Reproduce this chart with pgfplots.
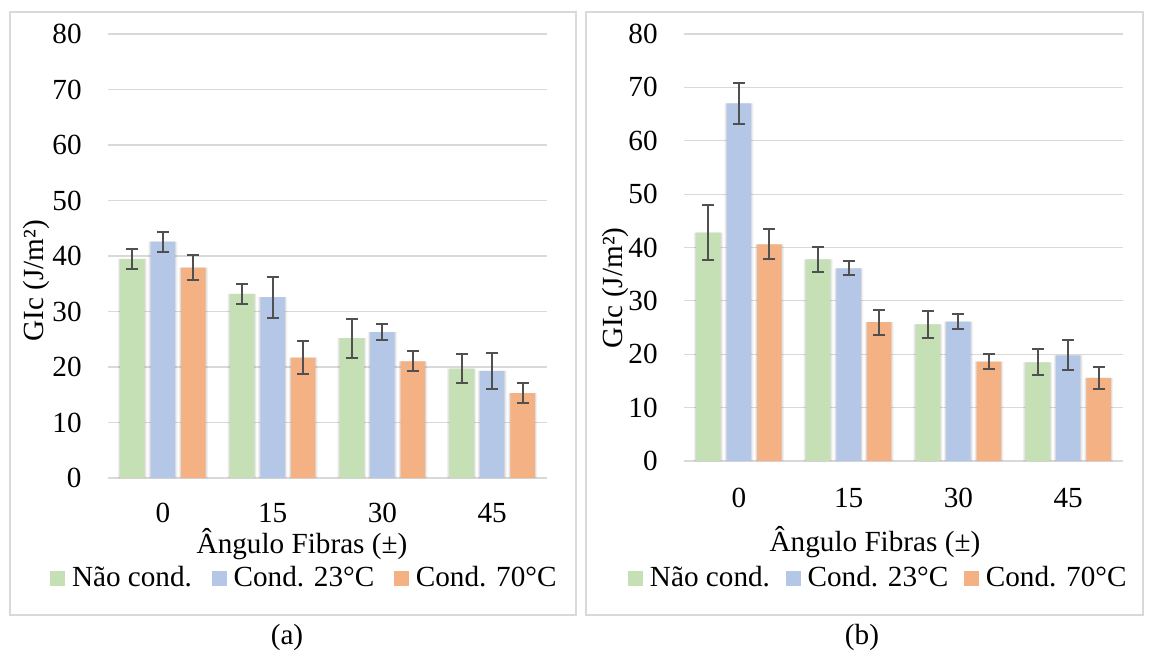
\documentclass[border=0pt]{standalone}
\usepackage{fontspec}
\setmainfont{Liberation Serif}
\usepackage{pgfplots}
\usepackage{pgfplotstable}
\pgfplotsset{compat=1.18}
\definecolor{cgreen}{HTML}{C5E0B4}
\definecolor{cblue}{HTML}{B4C7E7}
\definecolor{corange}{HTML}{F4B183}
\definecolor{gridgray}{HTML}{D9D9D9}
\definecolor{errgray}{HTML}{505050}
\definecolor{framegray}{HTML}{D9D9D9}
\newcommand\fs{\fontsize{14.6pt}{17pt}\selectfont}

\pgfplotstableread{
x y e
0 39.5 1.85
1 33.2 1.8
2 25.2 3.5
3 19.7 2.6
}\aGreen
\pgfplotstableread{
x y e
0 42.6 1.8
1 32.6 3.7
2 26.3 1.45
3 19.3 3.2
}\aBlue
\pgfplotstableread{
x y e
0 37.9 2.2
1 21.7 3.0
2 21.0 1.8
3 15.3 1.8
}\aOrange
\pgfplotstableread{
x y e
0 42.8 5.1
1 37.8 2.3
2 25.6 2.5
3 18.5 2.45
}\bGreen
\pgfplotstableread{
x y e
0 67.0 3.8
1 36.1 1.3
2 26.1 1.4
3 19.8 2.8
}\bBlue
\pgfplotstableread{
x y e
0 40.6 2.8
1 26.0 2.3
2 18.6 1.45
3 15.6 2.1
}\bOrange

\pgfplotsset{
 panel/.style={
  scale only axis, width=219.5pt,
  xmin=-0.5, xmax=3.5, ymin=0, ymax=80,
  ytick={0,10,...,80}, xtick={0,1,2,3}, xticklabels={0,15,30,45},
  axis line style={draw=none}, major tick length=0pt, tick style={draw=none},
  ymajorgrids, grid style={color=gridgray, line width=0.6pt},
  /pgf/number format/assume math mode=true,
  tick label style={font=\fs},
  yticklabel style={anchor=east, inner sep=0pt, xshift=-13pt},
  label style={font=\fs},
  legend style={draw=none, fill=none, font=\fs, legend columns=3,
    inner sep=0pt, nodes={inner sep=0pt}, anchor=west,
    /tikz/every odd column/.append style={column sep=3.3pt}},
  legend image code/.code={\fill[##1,draw=none] (0pt,-3.75pt) rectangle (7.5pt,3.75pt);},
  clip=false,
 },
}

\newcommand\series[3]{%
 \addplot[ybar, bar width=0.262, bar shift=0, fill=black, fill opacity=0.06, draw=none, forget plot]
   table[x expr=\thisrow{x}+#3, y=y]{#1};
 \addplot[ybar, bar width=0.242, bar shift=0, fill=black, fill opacity=0.08, draw=none, forget plot]
   table[x expr=\thisrow{x}+#3, y=y]{#1};
 \addplot[ybar, bar width=0.2214, bar shift=0, fill=#2, draw=none]
   table[x expr=\thisrow{x}+#3, y=y]{#1};
}
\newcommand\errs[2]{%
 \addplot[forget plot, mark=none, draw=none,
   error bars/.cd, y dir=both, y explicit, error mark=|,
   error bar style={draw=errgray, solid, line width=1pt},
   error mark options={draw=errgray, solid, line width=1pt, mark size=3pt}]
   table[x expr=\thisrow{x}+#2, y=y, y error=e]{#1};
}

\begin{document}
\begin{tikzpicture}
\useasboundingbox (0,0) rectangle (574.5pt,-327.5pt);
\draw[framegray, line width=0.6pt] (5pt,-6pt) rectangle (288pt,-307.5pt);
\draw[framegray, line width=0.6pt] (293pt,-6pt) rectangle (571.5pt,-307.5pt);

\begin{axis}[panel, height=222pt, at={(54pt,-239pt)}, anchor=south west,
  xticklabel style={anchor=base, inner sep=0pt, yshift=-22pt},
  xlabel={Ângulo Fibras (±)},
  xlabel style={at={(0.442,-0.171)}, anchor=base, inner sep=0pt},
  ylabel={GIc (J/m²)},
  ylabel style={at={(-0.148,0.4437)}, anchor=base, inner sep=0pt},
  legend style={at={(-0.1321,-0.2252)}, /tikz/every even column/.append style={column sep=10pt}},
  legend entries={Não cond., Cond. 23°C, Cond. 70°C},
]
\series{\aGreen}{cgreen}{-0.278}
\series{\aBlue}{cblue}{0}
\series{\aOrange}{corange}{0.278}
\errs{\aGreen}{-0.278}
\errs{\aBlue}{0}
\errs{\aOrange}{0.278}
\end{axis}

\begin{axis}[panel, height=213.5pt, at={(342pt,-230.5pt)}, anchor=south west,
  xticklabel style={anchor=base, inner sep=0pt, yshift=-23pt},
  xlabel={Ângulo Fibras (±)},
  xlabel style={at={(0.435,-0.211)}, anchor=base, inner sep=0pt},
  ylabel={GIc (J/m²)},
  ylabel style={at={(-0.141,0.405)}, anchor=base, inner sep=0pt},
  legend style={at={(-0.1276,-0.274)}, /tikz/every even column/.append style={column sep=8pt}},
  legend entries={Não cond., Cond. 23°C, Cond. 70°C},
]
\series{\bGreen}{cgreen}{-0.278}
\series{\bBlue}{cblue}{0}
\series{\bOrange}{corange}{0.278}
\errs{\bGreen}{-0.278}
\errs{\bBlue}{0}
\errs{\bOrange}{0.278}
\end{axis}

\node[font=\fs] at (143.5pt,-318.5pt) {(a)};
\node[font=\fs] at (431pt,-318.5pt) {(b)};
\end{tikzpicture}
\end{document}
